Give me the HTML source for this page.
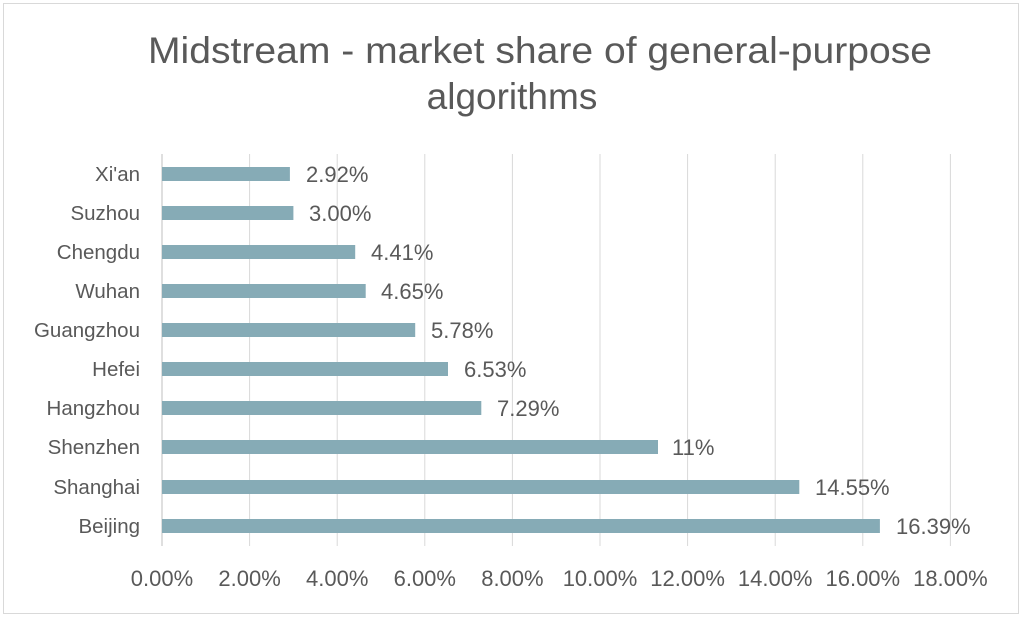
<!DOCTYPE html>
<html><head><style>
body{margin:0;background:#fff;}
svg text{font-family:"Liberation Sans",sans-serif;fill:#595959;}
</style></head><body>
<svg width="1024" height="618" xmlns="http://www.w3.org/2000/svg">
<rect x="3.5" y="3.5" width="1015" height="610" fill="#fff" stroke="#d9d9d9"/>
<text x="540" y="63" font-size="37" text-anchor="middle" textLength="784" lengthAdjust="spacingAndGlyphs">Midstream - market share of general-purpose</text>
<text x="512" y="109" font-size="37" text-anchor="middle">algorithms</text>
<g stroke="#d9d9d9" stroke-width="1">
<line x1="249.6" y1="154" x2="249.6" y2="546"/>
<line x1="337.2" y1="154" x2="337.2" y2="546"/>
<line x1="424.8" y1="154" x2="424.8" y2="546"/>
<line x1="512.4" y1="154" x2="512.4" y2="546"/>
<line x1="600" y1="154" x2="600" y2="546"/>
<line x1="687.6" y1="154" x2="687.6" y2="546"/>
<line x1="775.2" y1="154" x2="775.2" y2="546"/>
<line x1="862.8" y1="154" x2="862.8" y2="546"/>
<line x1="950.4" y1="154" x2="950.4" y2="546"/>
</g>
<line x1="162" y1="154" x2="162" y2="546" stroke="#bfbfbf"/>
<g fill="#86abb6">
<rect x="162" y="167" width="127.9" height="14"/>
<rect x="162" y="206" width="131.4" height="14"/>
<rect x="162" y="245" width="193.2" height="14"/>
<rect x="162" y="284" width="203.7" height="14"/>
<rect x="162" y="323" width="253.2" height="14"/>
<rect x="162" y="362" width="286" height="14"/>
<rect x="162" y="401" width="319.3" height="14"/>
<rect x="162" y="440" width="496" height="14"/>
<rect x="162" y="480" width="637.3" height="14"/>
<rect x="162" y="519" width="717.9" height="14"/>
</g>
<g font-size="20.5" text-anchor="end">
<text x="140" y="181">Xi'an</text>
<text x="140" y="220">Suzhou</text>
<text x="140" y="259">Chengdu</text>
<text x="140" y="298">Wuhan</text>
<text x="140" y="337">Guangzhou</text>
<text x="140" y="376">Hefei</text>
<text x="140" y="415">Hangzhou</text>
<text x="140" y="454">Shenzhen</text>
<text x="140" y="494">Shanghai</text>
<text x="140" y="533">Beijing</text>
</g>
<g font-size="22">
<text x="306" y="182">2.92%</text>
<text x="309" y="221">3.00%</text>
<text x="371" y="260">4.41%</text>
<text x="381" y="299">4.65%</text>
<text x="431" y="338">5.78%</text>
<text x="464" y="377">6.53%</text>
<text x="497" y="416">7.29%</text>
<text x="672" y="455">11%</text>
<text x="815" y="495">14.55%</text>
<text x="896" y="534">16.39%</text>
</g>
<g font-size="22" text-anchor="middle">
<text x="162" y="586">0.00%</text>
<text x="249.6" y="586">2.00%</text>
<text x="337.2" y="586">4.00%</text>
<text x="424.8" y="586">6.00%</text>
<text x="512.4" y="586">8.00%</text>
<text x="600" y="586">10.00%</text>
<text x="687.6" y="586">12.00%</text>
<text x="775.2" y="586">14.00%</text>
<text x="862.8" y="586">16.00%</text>
<text x="950.4" y="586">18.00%</text>
</g>
</svg>
</body></html>
